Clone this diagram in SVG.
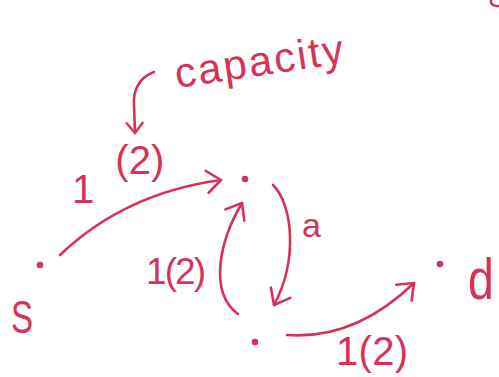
<svg xmlns="http://www.w3.org/2000/svg" width="499" height="377" viewBox="0 0 499 377">
<style>
.ink{fill:none;stroke:#d63358;stroke-width:2.6;stroke-linecap:round;stroke-linejoin:round}
.dot{fill:#d63358}
.lbl{fill:#d63358;font-family:"Liberation Sans","DejaVu Sans",sans-serif}
</style>
<defs>
<marker id="arrow" markerUnits="userSpaceOnUse" viewBox="-16 -14 20 28" refX="0" refY="0" markerWidth="20" markerHeight="28" orient="auto" overflow="visible">
<path d="M-14,-11 L0,0 L-14,11" fill="none" stroke="#d63358" stroke-width="2.6" stroke-linecap="round" stroke-linejoin="round"/>
</marker>
<marker id="arrow-small" markerUnits="userSpaceOnUse" viewBox="-12 -10 14 20" refX="0" refY="0" markerWidth="14" markerHeight="20" orient="auto" overflow="visible">
<path d="M-10,-8 L0,0 L-10,8" fill="none" stroke="#d63358" stroke-width="2.4" stroke-linecap="round" stroke-linejoin="round"/>
</marker>
</defs>
<rect width="499" height="377" fill="#ffffff"/>
<path class="ink" d="M491,0 Q490,6 498,6"/>
<g id="connectors">
<path id="e-s-top" class="ink" d="M60,255 Q125,193 221,180" marker-end="url(#arrow)"/>
<path id="e-top-bottom" class="ink" d="M273,185 C293,205 298,260 274,305" marker-end="url(#arrow)"/>
<path id="e-bottom-top" class="ink" d="M238,314 C208,292 220,240 242,203" marker-end="url(#arrow)"/>
<path id="e-bottom-d" class="ink" d="M287,335 Q355,340 414,283" marker-end="url(#arrow)"/>
<path id="capacity-pointer" class="ink" d="M154,72 C138,78 133,92 134,105 L135,133" marker-end="url(#arrow-small)"/>
</g>
<g id="node-s">
<circle class="dot" cx="40" cy="265" r="3.3"/>
<text class="lbl" font-size="46" transform="translate(11,333) scale(0.72,1)">S</text>
</g>
<g id="node-top">
<circle class="dot" cx="245" cy="179" r="3.3"/>
</g>
<g id="node-bottom">
<circle class="dot" cx="255" cy="342" r="3.3"/>
</g>
<g id="node-d">
<circle class="dot" cx="440" cy="264" r="3.3"/>
<text class="lbl" font-size="58" transform="translate(468,299) scale(0.8,1)">d</text>
</g>
<g id="labels">
<text class="lbl" font-size="42" x="177" y="88" textLength="170" lengthAdjust="spacing" transform="rotate(-8.5 177 88)">capacity</text>
<text class="lbl" font-size="40" x="72" y="203">1 <tspan dx="10" dy="-29">(2)</tspan></text>
<text class="lbl" font-size="34" x="302" y="237">a</text>
<text class="lbl" font-size="37" x="146" y="284" textLength="60">1(2)</text>
<text class="lbl" font-size="40" x="336" y="365" textLength="72">1(2)</text>
</g>
</svg>
